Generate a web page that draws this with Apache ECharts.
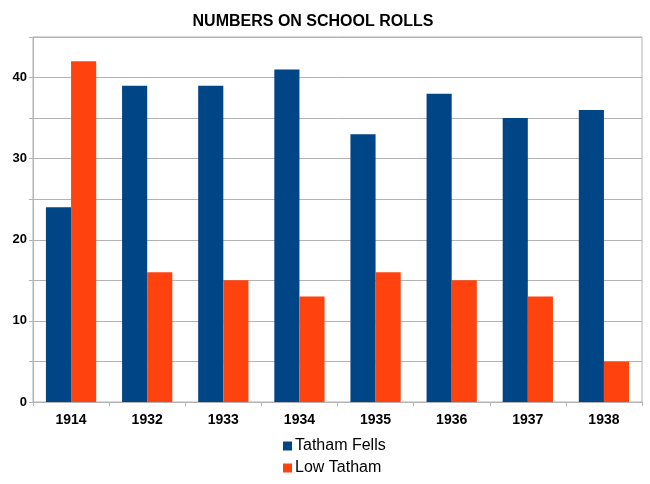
<!DOCTYPE html>
<html>
<head>
<meta charset="utf-8">
<script src="https://cdn.jsdelivr.net/npm/echarts@6/dist/echarts.min.js"></script>
<style>
  html, body { margin: 0; padding: 0; background: #fff; }
  #chart { width: 650px; height: 484px; }
</style>
</head>
<body>
<div id="chart"></div>
<script>
const years = ['1914', '1932', '1933', '1934', '1935', '1936', '1937', '1938'];
const tathamFells = [24, 39, 39, 41, 33, 38, 35, 36];
const lowTatham = [42, 16, 15, 13, 16, 15, 13, 5];

const gridColor = '#b3b3b3';

const myChart = echarts.init(document.getElementById('chart'));

const option = {
    animation: false,
    title: {
        text: 'NUMBERS ON SCHOOL ROLLS',
        left: 308,
        textAlign: 'center',
        top: 9,
        textStyle: {
            fontFamily: 'Liberation Sans',
            fontSize: 16,
            fontWeight: 'bold',
            color: '#000'
        }
    },
    legend: {
        orient: 'vertical',
        left: 283,
        top: 438,
        padding: 0,
        itemWidth: 9,
        itemHeight: 9,
        itemGap: 6,
        icon: 'rect',
        textStyle: {
            fontFamily: 'Liberation Sans',
            fontSize: 16,
            lineHeight: 16,
            color: '#000',
            padding: [0, 0, 0, -2]
        },
        data: ['Tatham Fells', 'Low Tatham']
    },
    grid: {
        left: 33,
        right: 8,
        top: 37,
        bottom: 82,
        show: true,
        borderColor: gridColor,
        borderWidth: 1
    },
    xAxis: {
        type: 'category',
        data: years,
        axisLine: { lineStyle: { color: gridColor } },
        axisTick: { show: true, length: 4, lineStyle: { color: gridColor } },
        axisLabel: {
            margin: 11,
            fontFamily: 'Liberation Sans',
            fontSize: 14,
            fontWeight: 'bold',
            color: '#000'
        }
    },
    yAxis: {
        type: 'value',
        min: 0,
        max: 45,
        interval: 5,
        axisLine: { show: true, lineStyle: { color: gridColor } },
        axisTick: { show: true, length: 4, lineStyle: { color: gridColor } },
        splitLine: { show: true, lineStyle: { color: gridColor } },
        axisLabel: {
            margin: 6,
            fontFamily: 'Liberation Sans',
            fontSize: 13,
            fontWeight: 'bold',
            color: '#000',
            formatter: v => (v % 10 === 0 ? String(v) : '')
        }
    },
    series: [
        {
            name: 'Tatham Fells',
            type: 'bar',
            data: tathamFells,
            barGap: '0%',
            barCategoryGap: '34%',
            itemStyle: { color: '#004586' }
        },
        {
            name: 'Low Tatham',
            type: 'bar',
            data: lowTatham,
            barGap: '0%',
            barCategoryGap: '34%',
            itemStyle: { color: '#ff420e' }
        }
    ]
};

myChart.setOption(option);
</script>
</body>
</html>
